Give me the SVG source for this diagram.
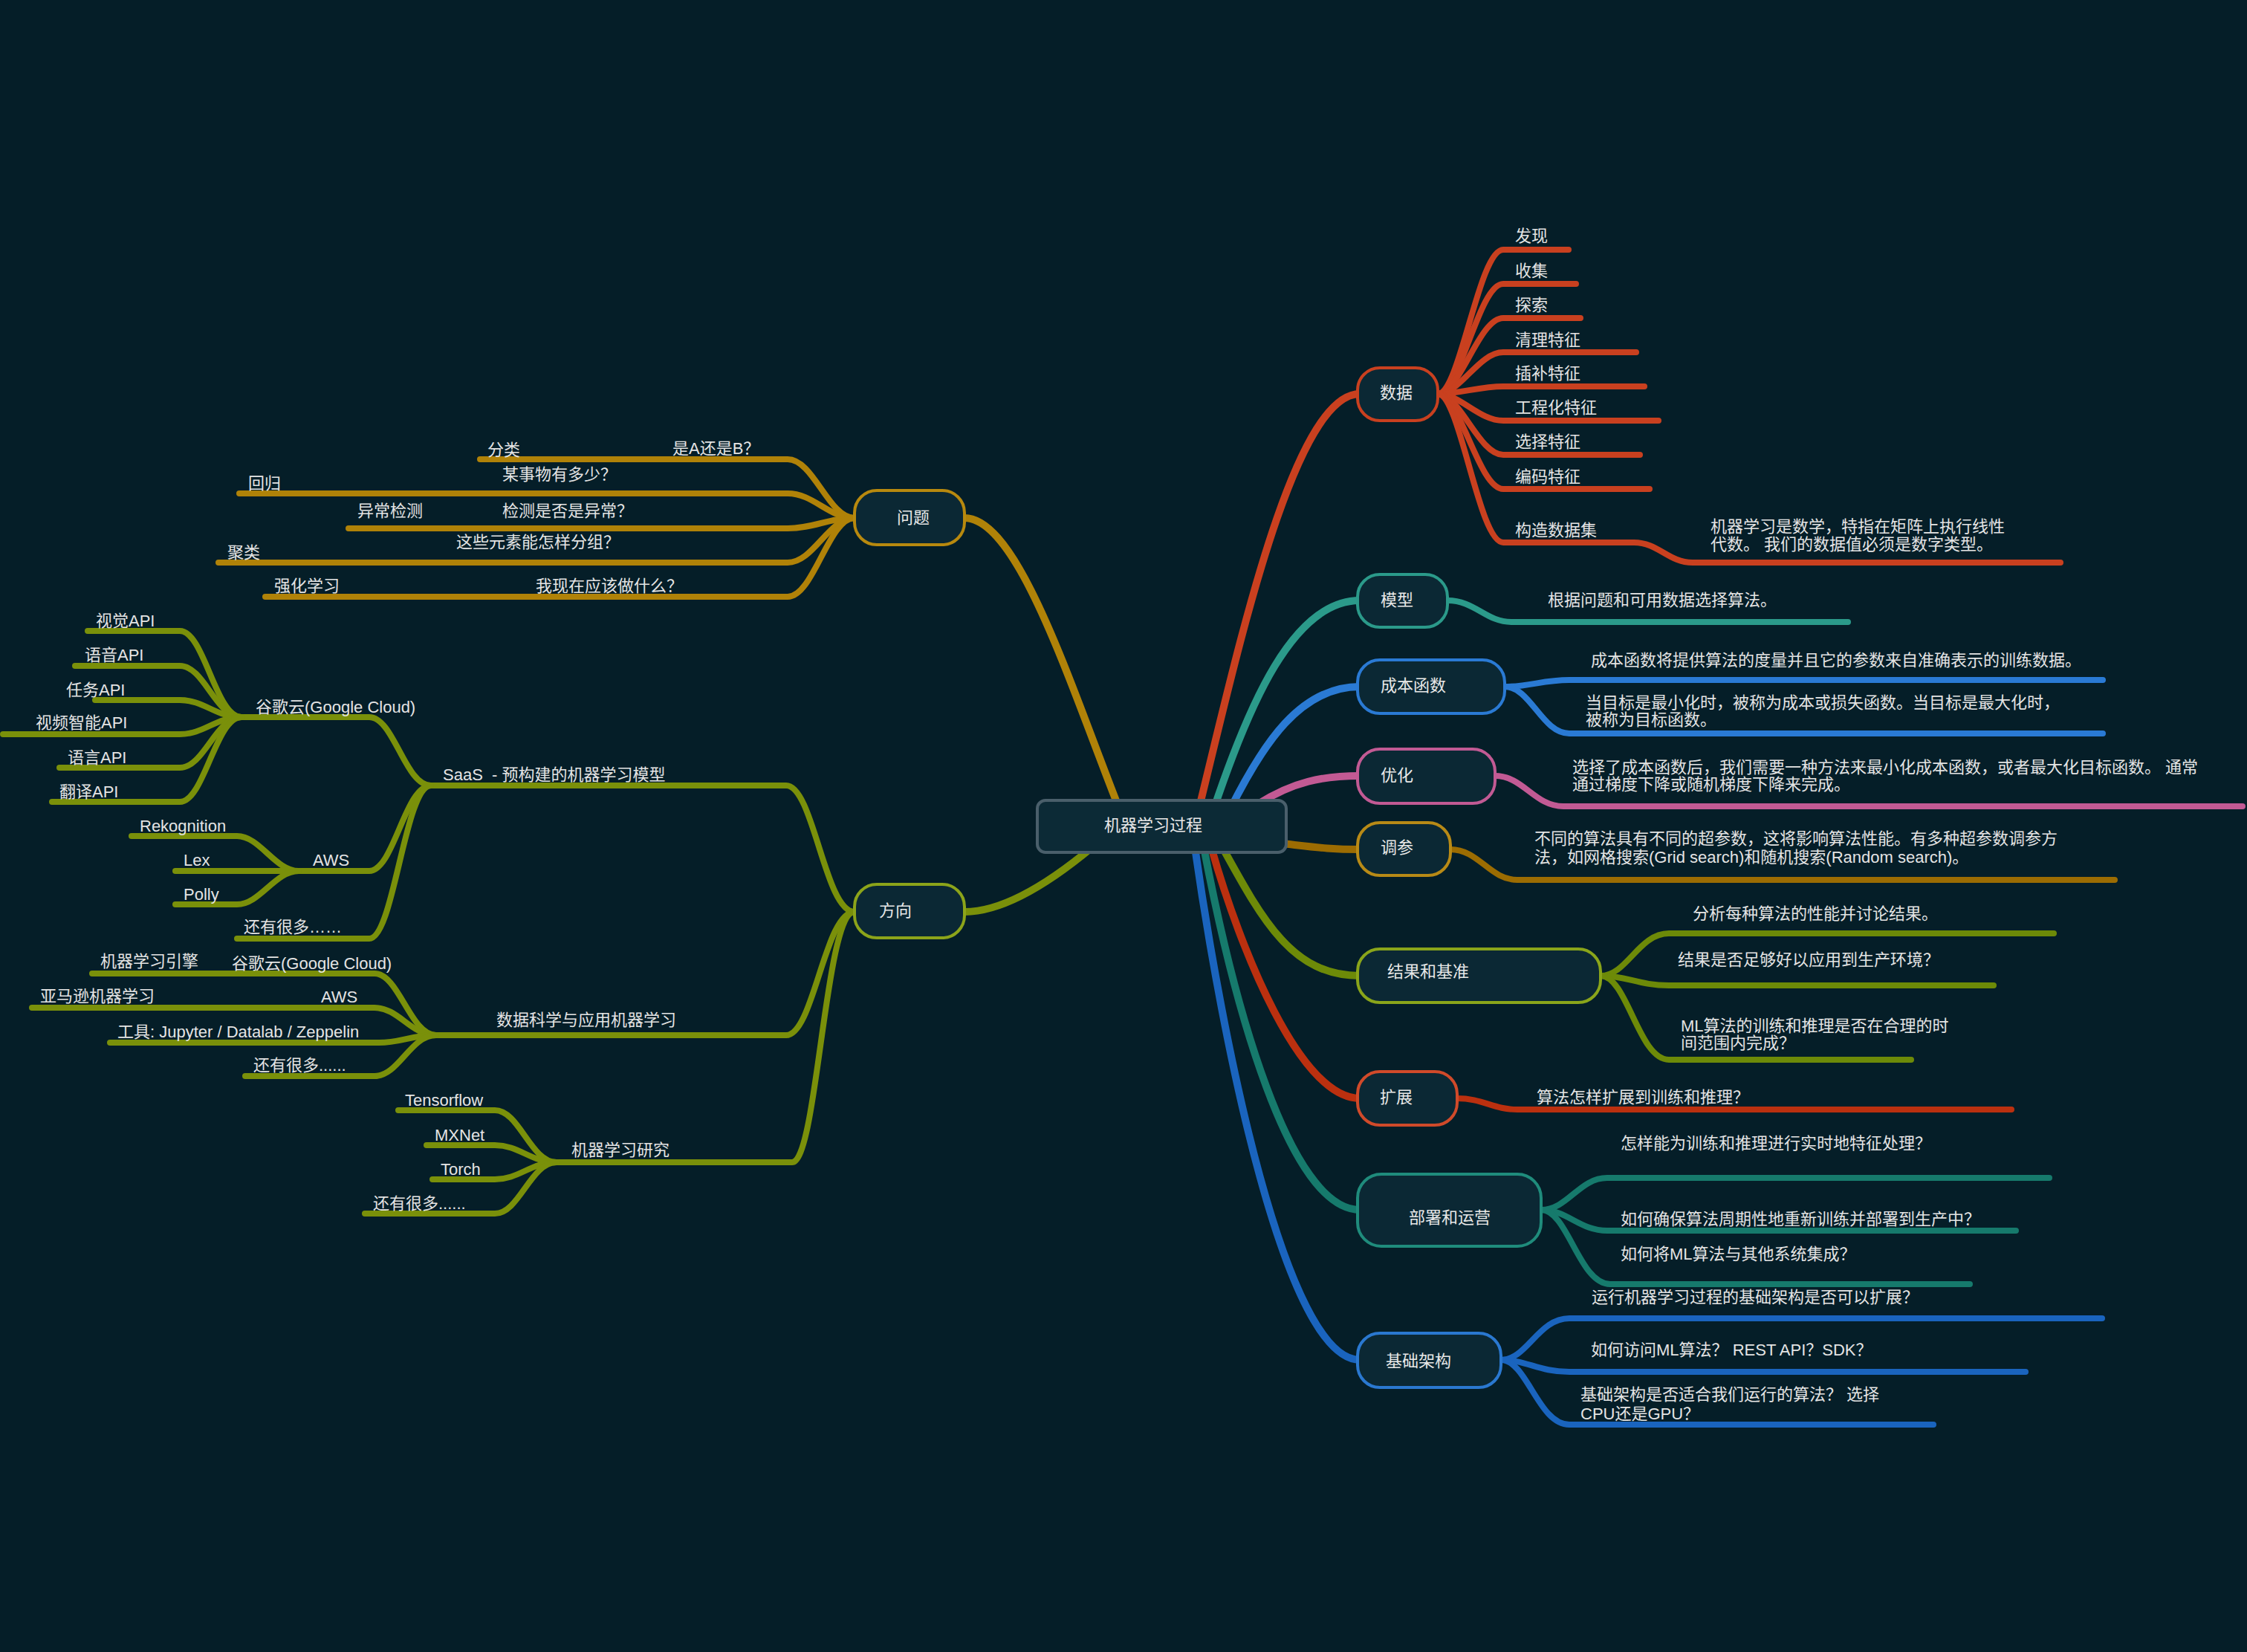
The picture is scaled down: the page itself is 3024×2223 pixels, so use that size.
<svg xmlns="http://www.w3.org/2000/svg" width="3024" height="2223" viewBox="0 0 3024 2223">
<style>
.t{font-family:"Liberation Sans","Noto Sans CJK SC",sans-serif;font-size:22px;fill:#e4e4e4}
.nt{font-family:"Liberation Sans","Noto Sans CJK SC",sans-serif;font-size:22px;fill:#e8e8e8}
.n{fill:#0b2834;stroke-width:4}
.c{fill:none;stroke-width:10;stroke-linecap:round}
.l{fill:none;stroke-width:8;stroke-linecap:round}
.red{stroke:#c9401f}.teal{stroke:#2b9a8a}.blue{stroke:#2a7ad4}.pink{stroke:#c25a94}
.ochre{stroke:#9c6c02}.olive{stroke:#6d8a08}.red2{stroke:#bb300f}.teal2{stroke:#167a6c}
.blue2{stroke:#1a64be}.gold{stroke:#b08208}.green{stroke:#7a900a}
</style>
<rect width="3024" height="2223" fill="#051e28"/>
<g id="connectors">
<path class="c red" d="M1613,1090 C1665,880 1740,530 1830,530"/>
<path class="c teal" d="M1633,1090 C1680,950 1740,808 1830,808"/>
<path class="c blue" d="M1655,1090 C1700,1000 1750,924 1830,924"/>
<path class="c pink" d="M1693,1082 C1740,1052 1780,1044 1830,1044"/>
<path class="c ochre" d="M1725,1135 C1770,1140 1790,1143 1830,1143"/>
<path class="c olive" d="M1645,1140 C1700,1240 1740,1313 1830,1313"/>
<path class="c red2" d="M1630,1140 C1670,1280 1750,1478 1830,1478"/>
<path class="c teal2" d="M1620,1140 C1660,1350 1735,1628 1830,1628"/>
<path class="c blue2" d="M1608,1140 C1645,1400 1730,1830 1830,1830"/>
<path class="c gold" d="M1298,697 C1370,697 1440,920 1505,1085"/>
<path class="c green" d="M1298,1227 C1350,1227 1410,1190 1470,1140"/>

<path class="l red" d="M1935,530 C1965,530 1990,336 2023,336 H2111"/>
<path class="l red" d="M1935,530 C1965,530 1990,382 2023,382 H2121"/>
<path class="l red" d="M1935,530 C1965,530 1990,428 2023,428 H2127"/>
<path class="l red" d="M1935,530 C1965,530 1990,474 2023,474 H2202"/>
<path class="l red" d="M1935,530 C1965,530 1990,520 2023,520 H2213"/>
<path class="l red" d="M1935,530 C1965,530 1990,566 2023,566 H2232"/>
<path class="l red" d="M1935,530 C1965,530 1990,612 2023,612 H2207"/>
<path class="l red" d="M1935,530 C1965,530 1990,658 2023,658 H2220"/>
<path class="l red" d="M1935,530 C1965,530 1990,730 2023,730 H2199 C2232,730 2245,757 2278,757 H2773"/>
<path class="l teal" d="M1948,808 C1985,808 2000,837 2034,837 H2487"/>
<path class="l blue" d="M2025,924 C2060,924 2075,915 2112,915 H2830"/>
<path class="l blue" d="M2025,924 C2060,924 2075,987 2112,987 H2830"/>
<path class="l pink" d="M2012,1044 C2050,1044 2065,1085 2104,1085 H3018"/>
<path class="l ochre" d="M1952,1143 C1990,1143 2005,1184 2042,1184 H2846"/>
<path class="l olive" d="M2154,1313 C2190,1313 2205,1256 2246,1256 H2764"/>
<path class="l olive" d="M2154,1313 C2190,1313 2205,1326 2246,1326 H2683"/>
<path class="l olive" d="M2154,1313 C2190,1313 2205,1426 2246,1426 H2572"/>
<path class="l red2" d="M1961,1478 C1995,1478 2010,1493 2042,1493 H2707"/>
<path class="l teal2" d="M2074,1628 C2110,1628 2125,1585 2163,1585 H2758"/>
<path class="l teal2" d="M2074,1628 C2110,1628 2125,1656 2163,1656 H2713"/>
<path class="l teal2" d="M2074,1628 C2110,1628 2125,1728 2167,1728 H2651"/>
<path class="l blue2" d="M2020,1830 C2055,1830 2070,1774 2112,1774 H2829"/>
<path class="l blue2" d="M2020,1830 C2055,1830 2070,1846 2112,1846 H2726"/>
<path class="l blue2" d="M2020,1830 C2055,1830 2070,1917 2112,1917 H2602"/>

<path class="l gold" d="M1150,697 C1115,697 1095,618 1060,618 H646"/>
<path class="l gold" d="M1150,697 C1115,697 1095,664 1060,664 H322"/>
<path class="l gold" d="M1150,697 C1115,697 1095,711 1060,711 H469"/>
<path class="l gold" d="M1150,697 C1115,697 1095,757 1060,757 H294"/>
<path class="l gold" d="M1150,697 C1115,697 1095,803 1060,803 H357"/>

<path class="l green" d="M1150,1227 C1110,1227 1095,1057 1058,1057 H580"/>
<path class="l green" d="M1150,1227 C1110,1227 1095,1393 1058,1393 H587"/>
<path class="l green" d="M1150,1227 C1110,1227 1100,1564 1066,1564 H749"/>
<path class="l green" d="M580,1057 C545,1057 530,965 497,965 H325"/>
<path class="l green" d="M580,1057 C545,1057 530,1172 497,1172 H402"/>
<path class="l green" d="M580,1057 C545,1057 530,1263 497,1263 H319"/>
<path class="l green" d="M325,965 C290,965 275,849 242,849 H118"/>
<path class="l green" d="M325,965 C290,965 275,896 242,896 H101"/>
<path class="l green" d="M325,965 C290,965 275,942 242,942 H128"/>
<path class="l green" d="M325,965 C290,965 275,988 242,988 H4"/>
<path class="l green" d="M325,965 C290,965 275,1033 242,1033 H80"/>
<path class="l green" d="M325,965 C290,965 275,1079 242,1079 H70"/>
<path class="l green" d="M402,1172 C370,1172 350,1125 319,1125 H177"/>
<path class="l green" d="M402,1172 H236"/>
<path class="l green" d="M402,1172 C370,1172 350,1217 319,1217 H236"/>
<path class="l green" d="M587,1393 C552,1393 537,1310 504,1310 H124"/>
<path class="l green" d="M587,1393 C552,1393 537,1356 504,1356 H43"/>
<path class="l green" d="M587,1393 C552,1393 540,1403 510,1403 H148"/>
<path class="l green" d="M587,1393 C552,1393 537,1448 504,1448 H330"/>
<path class="l green" d="M749,1564 C714,1564 699,1494 666,1494 H536"/>
<path class="l green" d="M749,1564 C714,1564 699,1541 666,1541 H574"/>
<path class="l green" d="M749,1564 C714,1564 699,1587 666,1587 H582"/>
<path class="l green" d="M749,1564 C714,1564 699,1633 666,1633 H491"/>
</g>

<g id="node-center"><rect x="1396" y="1077" width="335" height="70" rx="11" fill="#0c2a36" stroke="#4a5f6b" stroke-width="4"/><text class="nt" x="1486" y="1118">机器学习过程</text></g>
<g id="node-data"><rect class="n" x="1827" y="495" width="108" height="71" rx="30" stroke="#c9401f"/><text class="nt" x="1857" y="536">数据</text></g>
<g id="node-model"><rect class="n" x="1827" y="773" width="121" height="71" rx="30" stroke="#2b9a8a"/><text class="nt" x="1858" y="815">模型</text></g>
<g id="node-cost"><rect class="n" x="1827" y="888" width="198" height="72" rx="30" stroke="#2a7ad4"/><text class="nt" x="1858" y="930">成本函数</text></g>
<g id="node-opt"><rect class="n" x="1827" y="1008" width="185" height="73" rx="30" stroke="#c25a94"/><text class="nt" x="1858" y="1051">优化</text></g>
<g id="node-tune"><rect class="n" x="1827" y="1107" width="125" height="71" rx="30" stroke="#b88a16"/><text class="nt" x="1858" y="1148">调参</text></g>
<g id="node-result"><rect class="n" x="1827" y="1277" width="327" height="72" rx="30" stroke="#8aa51a"/><text class="nt" x="1867" y="1315">结果和基准</text></g>
<g id="node-scale"><rect class="n" x="1827" y="1442" width="134" height="72" rx="30" stroke="#d04a2a"/><text class="nt" x="1857" y="1484">扩展</text></g>
<g id="node-deploy"><rect class="n" x="1827" y="1580" width="247" height="97" rx="32" stroke="#1f8c7c"/><text class="nt" x="1896" y="1646">部署和运营</text></g>
<g id="node-infra"><rect class="n" x="1827" y="1794" width="193" height="73" rx="30" stroke="#2a78d0"/><text class="nt" x="1865" y="1839">基础架构</text></g>
<g id="node-problem"><rect class="n" x="1150" y="660" width="148" height="73" rx="30" stroke="#b8890e"/><text class="nt" x="1207" y="704">问题</text></g>
<g id="node-direction"><rect class="n" x="1150" y="1190" width="148" height="72" rx="30" stroke="#8ca41a"/><text class="nt" x="1183" y="1233">方向</text></g>

<g id="leaves-data" class="t">
<text class="t" x="2039" y="325">发现</text>
<text class="t" x="2039" y="372">收集</text>
<text class="t" x="2039" y="418">探索</text>
<text class="t" x="2039" y="465">清理特征</text>
<text class="t" x="2039" y="510">插补特征</text>
<text class="t" x="2039" y="556">工程化特征</text>
<text class="t" x="2039" y="602">选择特征</text>
<text class="t" x="2039" y="649">编码特征</text>
<text class="t" x="2039" y="721">构造数据集</text>
<text class="t" x="2302" y="716">机器学习是数学，特指在矩阵上执行线性</text>
<text class="t" x="2302" y="740">代数。 我们的数据值必须是数字类型。</text>
</g>
<g id="leaves-right">
<text class="t" x="2083" y="815">根据问题和可用数据选择算法。</text>
<text class="t" x="2141" y="896">成本函数将提供算法的度量并且它的参数来自准确表示的训练数据。</text>
<text class="t" x="2134" y="953">当目标是最小化时，被称为成本或损失函数。当目标是最大化时，</text>
<text class="t" x="2134" y="976">被称为目标函数。</text>
<text class="t" x="2116" y="1040">选择了成本函数后，我们需要一种方法来最小化成本函数，或者最大化目标函数。 通常</text>
<text class="t" x="2116" y="1063">通过梯度下降或随机梯度下降来完成。</text>
<text class="t" x="2065" y="1136">不同的算法具有不同的超参数，这将影响算法性能。有多种超参数调参方</text>
<text class="t" x="2065" y="1161">法，如网格搜索(Grid search)和随机搜索(Random search)。</text>
<text class="t" x="2278" y="1237">分析每种算法的性能并讨论结果。</text>
<text class="t" x="2258" y="1299">结果是否足够好以应用到生产环境？</text>
<text class="t" x="2262" y="1388">ML算法的训练和推理是否在合理的时</text>
<text class="t" x="2262" y="1411">间范围内完成？</text>
<text class="t" x="2068" y="1484">算法怎样扩展到训练和推理？</text>
<text class="t" x="2181" y="1546">怎样能为训练和推理进行实时地特征处理？</text>
<text class="t" x="2181" y="1648">如何确保算法周期性地重新训练并部署到生产中？</text>
<text class="t" x="2181" y="1695">如何将ML算法与其他系统集成？</text>
<text class="t" x="2142" y="1753">运行机器学习过程的基础架构是否可以扩展？</text>
<text class="t" x="2141" y="1824">如何访问ML算法？ REST API？SDK？</text>
<text class="t" x="2127" y="1884">基础架构是否适合我们运行的算法？ 选择</text>
<text class="t" x="2127" y="1910">CPU还是GPU？</text>
</g>
<g id="leaves-problem">
<text class="t" x="656" y="613">分类</text>
<text class="t" x="905" y="611">是A还是B？</text>
<text class="t" x="334" y="658">回归</text>
<text class="t" x="676" y="646">某事物有多少？</text>
<text class="t" x="481" y="695">异常检测</text>
<text class="t" x="676" y="695">检测是否是异常？</text>
<text class="t" x="306" y="751">聚类</text>
<text class="t" x="614" y="737">这些元素能怎样分组？</text>
<text class="t" x="369" y="796">强化学习</text>
<text class="t" x="721" y="796">我现在应该做什么？</text>
</g>
<g id="leaves-direction">
<text class="t" x="596" y="1050" xml:space="preserve">SaaS  - 预构建的机器学习模型</text>
<text class="t" x="344" y="959">谷歌云(Google Cloud)</text>
<text class="t" x="129" y="843">视觉API</text>
<text class="t" x="114" y="889">语音API</text>
<text class="t" x="89" y="936">任务API</text>
<text class="t" x="48" y="980">视频智能API</text>
<text class="t" x="91" y="1027">语言API</text>
<text class="t" x="80" y="1073">翻译API</text>
<text class="t" x="421" y="1165">AWS</text>
<text class="t" x="188" y="1119">Rekognition</text>
<text class="t" x="247" y="1165">Lex</text>
<text class="t" x="247" y="1211">Polly</text>
<text class="t" x="328" y="1255">还有很多……</text>
<text class="t" x="668" y="1380">数据科学与应用机器学习</text>
<text class="t" x="312" y="1304">谷歌云(Google Cloud)</text>
<text class="t" x="135" y="1301">机器学习引擎</text>
<text class="t" x="432" y="1349">AWS</text>
<text class="t" x="54" y="1348">亚马逊机器学习</text>
<text class="t" x="158" y="1396">工具: Jupyter / Datalab / Zeppelin</text>
<text class="t" x="341" y="1441">还有很多......</text>
<text class="t" x="769" y="1555">机器学习研究</text>
<text class="t" x="545" y="1488">Tensorflow</text>
<text class="t" x="585" y="1535">MXNet</text>
<text class="t" x="593" y="1581">Torch</text>
<text class="t" x="502" y="1627">还有很多......</text>
</g>
</svg>
